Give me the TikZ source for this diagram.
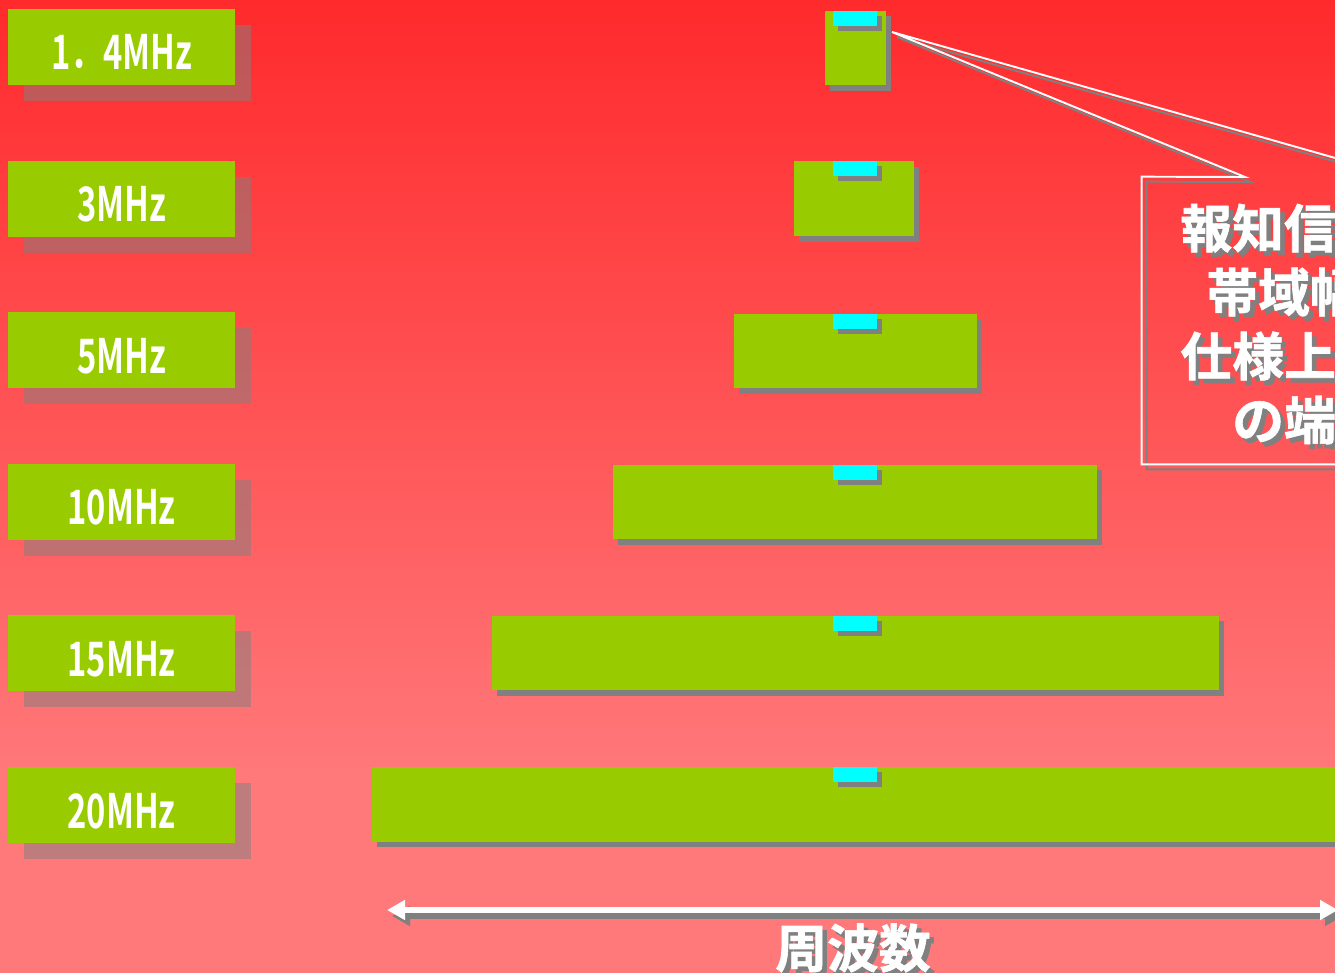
\documentclass[tikz,border=0pt]{standalone}
\usepackage{fontspec}
\usepackage{xcolor}
\usepackage{tikz}
\usetikzlibrary{shadows,arrows.meta}

\newfontfamily\jpfont{Noto Sans CJK JP Bold}[FakeBold=1.2]
\newfontfamily\bandfont{Noto Sans CJK JP Bold}[FakeStretch=0.69]

\definecolor{topRed}{RGB}{255,42,44}
\definecolor{botPink}{RGB}{255,120,122}
\definecolor{barGreen}{RGB}{153,204,0}
\definecolor{tagCyan}{RGB}{0,255,255}
\definecolor{shadowGray}{RGB}{128,128,128}

\tikzset{
  bwlabel/.style={fill=barGreen, inner sep=0pt, minimum width=4.54cm, minimum height=1.52cm,
    text=white, font=\bandfont\fontsize{27}{30}\selectfont, text height=0.92cm, text depth=0pt,
    drop shadow={shadow xshift=0.32cm, shadow yshift=-0.32cm, fill=shadowGray, opacity=0.5}},
  band/.style={fill=barGreen, inner sep=0pt, minimum width=#1*0.02cm, minimum height=1.5cm,
    drop shadow={shadow xshift=0.1cm, shadow yshift=-0.11cm, fill=shadowGray, opacity=1}},
  tag/.style={fill=tagCyan, inner sep=0pt, minimum width=0.88cm, minimum height=0.3cm, anchor=north,
    drop shadow={shadow xshift=0.1cm, shadow yshift=-0.1cm, fill=shadowGray, opacity=1}},
  bigtext/.style={font=\jpfont\fontsize{29.5}{36.4}\selectfont, align=center, inner sep=0pt},
  noteline/.style={line width=1.1pt, line join=miter},
  freqarrow/.style={line width=0.12cm, {Triangle[length=0.36cm, width=0.38cm]}-{Triangle[length=0.36cm, width=0.38cm]}},
}

\begin{document}
\begin{tikzpicture}[x=0.02cm, y=-0.02cm]
    \useasboundingbox (0,0) rectangle (1335,973);

    % Background gradient
    \fill[botPink] (0,770) rectangle (1335,973);
    \shade[top color=topRed, bottom color=botPink] (0,0) rectangle (1335,771);

    % Bandwidth labels
    \node[bwlabel] (l14) at (121.5,47) {1．4MHz};
    \node[bwlabel] (l3)  at (121.5,198.6) {3MHz};
    \node[bwlabel] (l5)  at (121.5,350.2) {5MHz};
    \node[bwlabel] (l10) at (121.5,501.8) {10MHz};
    \node[bwlabel] (l15) at (121.5,653.4) {15MHz};
    \node[bwlabel] (l20) at (121.5,805) {20MHz};

    % Occupied bands
    \node[band=61]  (b14) at (855.5,48) {};
    \node[band=120] (b3)  at (854,198.6) {};
    \node[band=243] (b5)  at (855.5,351) {};
    \node[band=484] (b10) at (855,502) {};
    \node[band=727] (b15) at (855.5,653) {};
    \node[band=966] (b20) at (855,804.5) {};

    % Broadcast channel markers
    \node[tag] (t14) at ([xshift=-0.01cm]b14.north) {};
    \node[tag] (t3)  at ([xshift=0.02cm]b3.north) {};
    \node[tag] (t5)  at ([xshift=-0.01cm]b5.north) {};
    \node[tag] (t10) at (b10.north) {};
    \node[tag] (t15) at ([xshift=-0.01cm]b15.north) {};
    \node[tag] (t20) at (b20.north) {};

    % Callout
    \node[minimum width=6.72cm, minimum height=5.74cm, inner sep=0pt] (notebox) at (1310,320.5) {};
    \coordinate (tip) at (892,32);
    \coordinate (pA) at (1245,177);
    \coordinate (pB) at (1402,177);
    \begin{scope}[transform canvas={xshift=0.1cm, yshift=-0.1cm}]
        \draw[noteline, shadowGray] (pA) -- (tip) -- (pB) -- (notebox.north east) -- (notebox.south east)
            -- (notebox.south west) -- (notebox.north west) -- cycle;
    \end{scope}
    \draw[noteline, white] (pA) -- (tip) -- (pB) -- (notebox.north east) -- (notebox.south east)
        -- (notebox.south west) -- (notebox.north west) -- cycle;
    \node[bigtext, text=shadowGray] (noteshade) at (1314.5,328.5) {報知信号は\\帯域幅が\\仕様上最小\\の端末};
    \node[bigtext, text=white] (note) at (1310,324) {報知信号は\\帯域幅が\\仕様上最小\\の端末};

    % Frequency axis
    \coordinate (fL) at (387,910);
    \coordinate (fR) at (1338,910);
    \begin{scope}[transform canvas={xshift=0.1cm, yshift=-0.12cm}]
        \draw[freqarrow, shadowGray] (fL) -- (fR);
    \end{scope}
    \draw[freqarrow, white] (fL) -- (fR);
    \node[bigtext, text=shadowGray] (freqshade) at (857.5,952.5) {周波数};
    \node[bigtext, text=white] (freq) at (853,948) {周波数};

\end{tikzpicture}
\end{document}
